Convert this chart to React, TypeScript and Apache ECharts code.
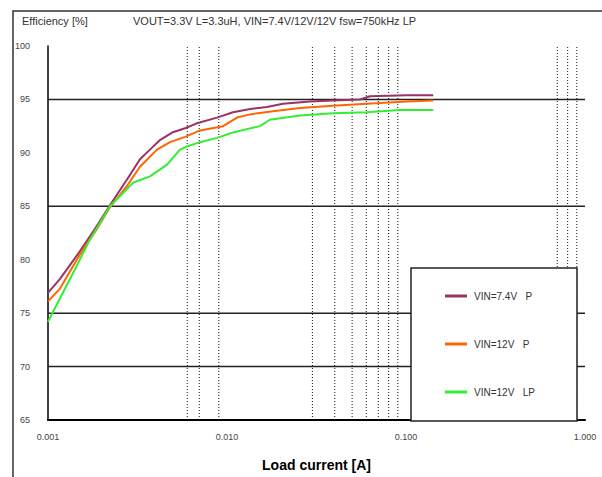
import React, { useEffect, useRef } from "react";
import * as echarts from "echarts";

const FONT = "Liberation Sans, Arial, sans-serif";

const seriesNames = ["VIN=7.4V   P", "VIN=12V   P", "VIN=12V   LP"];
const seriesColors = ["#993366", "#ff6600", "#33ee33"];

const currentA = [0.001, 0.001167, 0.001509, 0.001831, 0.002219, 0.002763, 0.003264, 0.003712, 0.004222, 0.004932, 0.005831, 0.006878, 0.008788, 0.0108, 0.01347, 0.01672, 0.02054, 0.02907, 0.03906, 0.05537, 0.06293, 0.1013, 0.1419];
const effA = [76.9, 78.2, 80.8, 82.9, 85.1, 87.5, 89.4, 90.3, 91.2, 91.9, 92.3, 92.8, 93.3, 93.8, 94.1, 94.3, 94.6, 94.8, 94.9, 95.0, 95.3, 95.4, 95.4];

const currentB = [0.001, 0.001167, 0.001509, 0.001831, 0.002219, 0.002763, 0.003264, 0.004062, 0.004803, 0.005831, 0.007066, 0.009497, 0.01138, 0.01347, 0.01807, 0.02558, 0.03906, 0.06039, 0.1013, 0.1419];
const effB = [76.1, 77.3, 80.5, 82.6, 84.9, 86.9, 88.7, 90.3, 91.0, 91.5, 92.1, 92.5, 93.3, 93.6, 93.9, 94.2, 94.4, 94.6, 94.8, 94.9];

const currentC = [0.001, 0.001167, 0.001415, 0.001716, 0.002219, 0.002984, 0.003712, 0.004627, 0.005464, 0.005978, 0.007066, 0.008788, 0.0108, 0.01528, 0.01735, 0.02558, 0.03906, 0.06039, 0.09252, 0.1419];
const effC = [74.2, 76.4, 79.1, 81.9, 85.0, 87.2, 87.8, 88.9, 90.3, 90.6, 91.0, 91.4, 91.9, 92.5, 93.1, 93.5, 93.7, 93.8, 94.0, 94.0];

const hGridValues = [95, 85, 75, 70];
const vDottedValues = [0.006, 0.007, 0.009, 0.03, 0.04, 0.05, 0.06, 0.07, 0.08, 0.09, 0.7, 0.8, 0.9];

const titleMain = "Efficiency [%]";
const titleSub = "VOUT=3.3V L=3.3uH, VIN=7.4V/12V/12V fsw=750kHz LP";
const xAxisName = "Load current [A]";

const yMin = 65;
const yMax = 100;
const yStep = 5;
const xMin = 0.001;
const xMax = 1;

function zip(xs: number[], ys: number[]) {
  return xs.map((x, i) => [x, ys[i]]);
}

export default function App() {
  const ref = useRef<HTMLDivElement>(null);
  useEffect(() => {
    if (!ref.current) return;
    const chart = echarts.init(ref.current, null, { renderer: "svg" });
    const datasets = [zip(currentA, effA), zip(currentB, effB), zip(currentC, effC)];
    const vLineSeries = vDottedValues.map((v, i) => ({
      name: "vgrid" + i,
      type: "line",
      data: [[v, yMin], [v, yMax]],
      symbol: "none",
      silent: true,
      z: 1,
      lineStyle: { color: "#111", width: 1, type: [1, 2] },
    }));
    const hLineSeries = hGridValues.map((v, i) => ({
      name: "hgrid" + i,
      type: "line",
      data: [[xMin, v], [xMax, v]],
      symbol: "none",
      silent: true,
      z: 1,
      lineStyle: { color: "#222", width: 1.5, type: "solid" },
    }));
    chart.setOption({
      animation: false,
      backgroundColor: "#ffffff",
      textStyle: { fontFamily: FONT },
      title: [
        { text: titleMain, left: 17, top: 10, textStyle: { fontSize: 11, fontWeight: "normal", color: "#333", fontFamily: FONT } },
        { text: titleSub, left: 128, top: 10, textStyle: { fontSize: 11, fontWeight: "normal", color: "#333", fontFamily: FONT } },
      ],
      grid: { left: 48, top: 46, right: 17, bottom: 55, containLabel: false },
      xAxis: {
        type: "log",
        logBase: 10,
        min: xMin,
        max: xMax,
        name: xAxisName,
        nameLocation: "middle",
        nameGap: 38,
        nameTextStyle: { fontSize: 14, fontWeight: "bold", color: "#000", fontFamily: FONT },
        axisLine: { show: true, lineStyle: { color: "#000", width: 2 } },
        axisTick: { show: false },
        splitLine: { show: false },
        minorTick: { show: false },
        axisLabel: { fontSize: 9, color: "#444", margin: 12, formatter: (v: number) => v.toFixed(3) },
      },
      yAxis: {
        type: "value",
        min: yMin,
        max: yMax,
        interval: yStep,
        axisLine: { show: true, lineStyle: { color: "#000", width: 1.5 } },
        axisTick: { show: false },
        splitLine: { show: false },
        axisLabel: { fontSize: 9, color: "#444", margin: 18 },
      },
      legend: {
        orient: "vertical",
        left: 440,
        top: 286,
        itemGap: 38,
        itemWidth: 22,
        itemHeight: 3,
        icon: "rect",
        z: 20,
        data: seriesNames,
        textStyle: { fontSize: 10, color: "#333", fontFamily: FONT, padding: [0, 0, 0, 2] },
      },
      graphic: [
        {
          type: "polyline",
          z: 1,
          shape: { points: [[13, 480], [13, 11], [605, 11]] },
          style: { stroke: "#333", lineWidth: 1.5, fill: null },
        },
        {
          type: "rect",
          z: 10,
          shape: { x: 411, y: 268, width: 166, height: 153 },
          style: { fill: "#ffffff", stroke: "#222", lineWidth: 1.5 },
        },
      ],
      series: [
        ...vLineSeries,
        ...hLineSeries,
        ...seriesNames.map((name, i) => ({
          name,
          type: "line",
          data: datasets[i],
          symbol: "none",
          showSymbol: false,
          z: 3,
          color: seriesColors[i],
          lineStyle: { color: seriesColors[i], width: 2 },
        })),
      ],
    });
    return () => chart.dispose();
  }, []);
  return <div ref={ref} style={{ position: "fixed", left: 0, top: 0, width: 602, height: 477 }} />;
}
